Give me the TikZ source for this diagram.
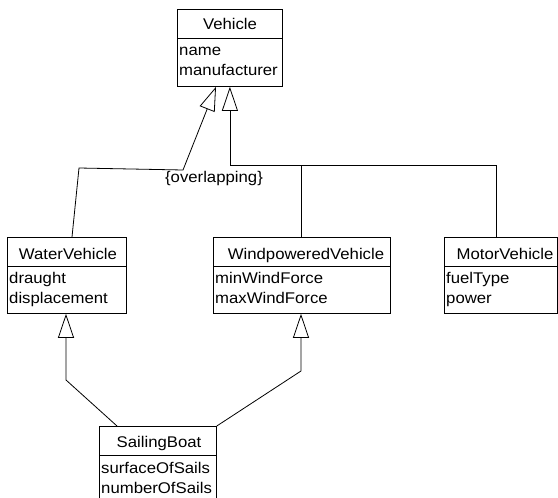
\documentclass[tikz,border=0pt]{standalone}
\usepackage{fontspec}
\setmainfont{Liberation Sans}[FakeStretch=1.08]
\usetikzlibrary{arrows.meta}
\begin{document}
\begin{tikzpicture}[x=1pt,y=-1pt,
  every node/.style={font=\fontsize{15.5}{18}\selectfont},
  cls/.style={draw, line width=0.8pt, rectangle, inner sep=0pt, anchor=north west},
  hdr/.style={anchor=base, inner sep=0pt},
  attr/.style={anchor=base west, inner sep=0pt},
  gen/.style={line width=0.8pt, -{Triangle[open, length=24pt, width=16pt, line width=0.8pt]}},
  lnk/.style={line width=0.8pt}]
\useasboundingbox (0,0) rectangle (558,498);

% class boxes
\node[cls, minimum width=105pt, minimum height=77pt] (veh) at (177,9) {};
\node[cls, minimum width=119pt, minimum height=76pt] (wv) at (7,237) {};
\node[cls, minimum width=177pt, minimum height=76pt] (wp) at (213,237) {};
\node[cls, minimum width=113pt, minimum height=76pt] (mv) at (444,237) {};
\node[cls, minimum width=117pt, minimum height=80pt] (sb) at (99,426) {};

% name compartments
\draw[lnk] ([yshift=-29pt]veh.north west) -- ([yshift=-29pt]veh.north east);
\draw[lnk] ([yshift=-29pt]wv.north west) -- ([yshift=-29pt]wv.north east);
\draw[lnk] ([yshift=-29pt]wp.north west) -- ([yshift=-29pt]wp.north east);
\draw[lnk] ([yshift=-29pt]mv.north west) -- ([yshift=-29pt]mv.north east);
\draw[lnk] ([yshift=-29pt]sb.north west) -- ([yshift=-29pt]sb.north east);

% class names
\node[hdr] (vehT) at (230,29) {Vehicle};
\node[hdr] (wvT) at (68,259) {WaterVehicle};
\node[hdr] (wpT) at (306,259) {WindpoweredVehicle};
\node[hdr] (mvT) at (505,259) {MotorVehicle};
\node[hdr] (sbT) at (159,447) {SailingBoat};

% attributes
\node[attr] (veh1) at (179,55) {name};
\node[attr] (veh2) at (179,75) {manufacturer};
\node[attr] (wv1) at (9,283) {draught};
\node[attr] (wv2) at (9,303) {displacement};
\node[attr] (wp1) at (215,283) {minWindForce};
\node[attr] (wp2) at (215,303) {maxWindForce};
\node[attr] (mv1) at (446,283) {fuelType};
\node[attr] (mv2) at (446,303) {power};
\node[attr] (sb1) at (101,473) {surfaceOfSails};
\node[attr] (sb2) at (101,493) {numberOfSails};

% generalisation set constraint
\node[hdr] (ovl) at (214,182) {\{overlapping\}};

% bend points
\coordinate (a1) at (79,168);
\coordinate (a2) at (183,170);
\coordinate (j1) at (301,165);
\coordinate (s1) at (66,380);
\coordinate (s2) at (301,371);

% WaterVehicle -> Vehicle
\draw[gen] ([xshift=65pt]wv.north west) -- (a1) -- (a2) -- ([xshift=39pt]veh.south west);
% Windpowered / Motor -> Vehicle
\draw[gen] ([xshift=88pt]wp.north west) -- (j1) -- (j1 -| veh.south) -- (veh.south);
\draw[lnk] ([xshift=52pt]mv.north west) |- (j1);
% SailingBoat -> WaterVehicle, Windpowered
\draw[gen] ([xshift=18pt]sb.north west) -- (s1) -- (wv.south -| s1);
\draw[gen] (sb.north east) -- (s2) -- (wp.south -| s2);
\end{tikzpicture}
\end{document}
